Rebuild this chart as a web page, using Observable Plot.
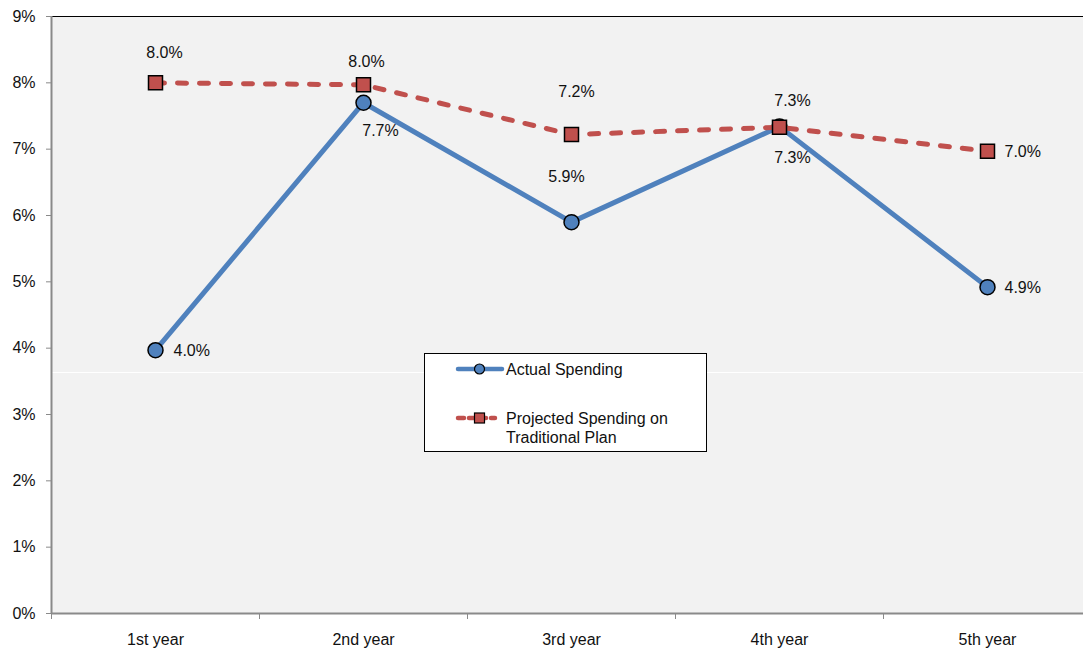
<!DOCTYPE html>
<html>
<head>
<meta charset="utf-8">
<script src="https://cdn.jsdelivr.net/npm/d3@7"></script>
<script src="https://cdn.jsdelivr.net/npm/@observablehq/plot@0.6"></script>
<style>
  html, body { margin: 0; padding: 0; background: #ffffff; }
  #chart { width: 1083px; height: 649px; overflow: hidden; }
  #chart svg { display: block; }
</style>
</head>
<body>
<div id="chart"></div>
<script>
// Spending rate by year, percent
const years = ["1st year", "2nd year", "3rd year", "4th year", "5th year"];
const actualSpending = [3.97, 7.70, 5.90, 7.34, 4.92];
const projectedSpending = [8.00, 7.97, 7.22, 7.33, 6.97];
const yTicks = [0, 1, 2, 3, 4, 5, 6, 7, 8, 9];
const seriesNames = ["Actual Spending", "Projected Spending on", "Traditional Plan"];

// Label nudges [dx, dy, anchor] for each point's value label
const actualLabelNudge = [[18, 1, "start"], [17, 28, "middle"], [-5, -45, "middle"], [13, 31, "middle"], [17, 1, "start"]];
const projectedLabelNudge = [[9, -30, "middle"], [3, -23, "middle"], [5, -43, "middle"], [13, -26, "middle"], [17, 1, "start"]];

const FONT = "'Liberation Sans', Arial, Helvetica, sans-serif";
const BLUE = "#4f81bd";
const RED = "#c0504d";
const AXIS = "#8a8a8a";
const INK = "#111111";

const pos = (d, i) => i + 0.5;
const fmt = v => v.toFixed(1) + "%";

function valueLabels(values, nudges) {
  return values.map((v, i) => Plot.text([v], {
    x: () => i + 0.5,
    y: d => d,
    text: d => fmt(d),
    dx: nudges[i][0],
    dy: nudges[i][1],
    textAnchor: nudges[i][2],
    fontSize: 16,
    fill: INK
  }));
}

const plot = Plot.plot({
  width: 1083,
  height: 649,
  marginLeft: 51,
  marginRight: 0,
  marginTop: 16,
  marginBottom: 36,
  style: { fontFamily: FONT, background: "#ffffff", color: INK },
  x: { type: "linear", domain: [0, 5], range: [51, 1091] },
  y: { domain: [0, 9] },
  marks: [
    Plot.frame({ fill: "#f2f2f2", stroke: null }),
    Plot.ruleY([3.633], { stroke: "#ffffff", strokeWidth: 1.2 }),
    Plot.ruleY([9], { stroke: "#000000", strokeWidth: 1 }),
    Plot.axisY({
      ticks: yTicks, tickFormat: d => d + "%", tickSize: 5, tickPadding: 11,
      fontSize: 16, stroke: AXIS, fill: INK, label: null
    }),
    Plot.axisX({
      ticks: [0, 1, 2, 3, 4, 5], tickFormat: () => "", tickSize: 6,
      stroke: AXIS, label: null
    }),
    Plot.axisX({
      ticks: years.map(pos), tickFormat: d => years[Math.floor(d)], tickSize: 0,
      tickPadding: 20, fontSize: 16, fill: INK, label: null
    }),
    Plot.ruleX([0], { stroke: AXIS, strokeWidth: 2 }),
    Plot.ruleY([0], { stroke: AXIS, strokeWidth: 2 }),

    Plot.line(actualSpending, { x: pos, y: d => d, stroke: BLUE, strokeWidth: 5 }),
    Plot.dot(actualSpending, { x: pos, y: d => d, r: 7.5, fill: BLUE, stroke: "#000", strokeWidth: 1.5 }),
    Plot.line(projectedSpending, {
      x: pos, y: d => d, stroke: RED, strokeWidth: 5,
      strokeDasharray: "9,13", strokeLinecap: "round"
    }),
    Plot.dot(projectedSpending, {
      x: pos, y: d => d, symbol: "square", r: 7.9, fill: RED, stroke: "#000", strokeWidth: 1.5
    }),

    ...valueLabels(actualSpending, actualLabelNudge),
    ...valueLabels(projectedSpending, projectedLabelNudge)
  ]
});

// Legend box drawn inside the plot area
const svg = d3.select(plot);
const lg = svg.append("g")
  .attr("font-family", FONT).attr("font-size", 16).attr("fill", INK)
  .attr("text-anchor", "start");
lg.append("rect").attr("x", 424.5).attr("y", 353.5).attr("width", 282).attr("height", 98)
  .attr("fill", "#ffffff").attr("stroke", "#000").attr("stroke-width", 1);

lg.append("line").attr("x1", 458).attr("x2", 502).attr("y1", 369).attr("y2", 369)
  .attr("stroke", BLUE).attr("stroke-width", 4.5).attr("stroke-linecap", "round");
lg.append("circle").attr("cx", 479.5).attr("cy", 369).attr("r", 5)
  .attr("fill", BLUE).attr("stroke", "#000").attr("stroke-width", 1.2);
lg.append("text").attr("x", 506).attr("y", 369).attr("dy", "0.35em").text(seriesNames[0]);

lg.append("line").attr("x1", 458).attr("x2", 495).attr("y1", 418).attr("y2", 418)
  .attr("stroke", RED).attr("stroke-width", 4.5).attr("stroke-linecap", "round")
  .attr("stroke-dasharray", "6,5");
lg.append("rect").attr("x", 474.5).attr("y", 413).attr("width", 10).attr("height", 10)
  .attr("fill", RED).attr("stroke", "#000").attr("stroke-width", 1.2);
lg.append("text").attr("x", 506).attr("y", 418).attr("dy", "0.35em").text(seriesNames[1]);
lg.append("text").attr("x", 506).attr("y", 437).attr("dy", "0.35em").text(seriesNames[2]);

document.getElementById("chart").appendChild(plot);
</script>
</body>
</html>
